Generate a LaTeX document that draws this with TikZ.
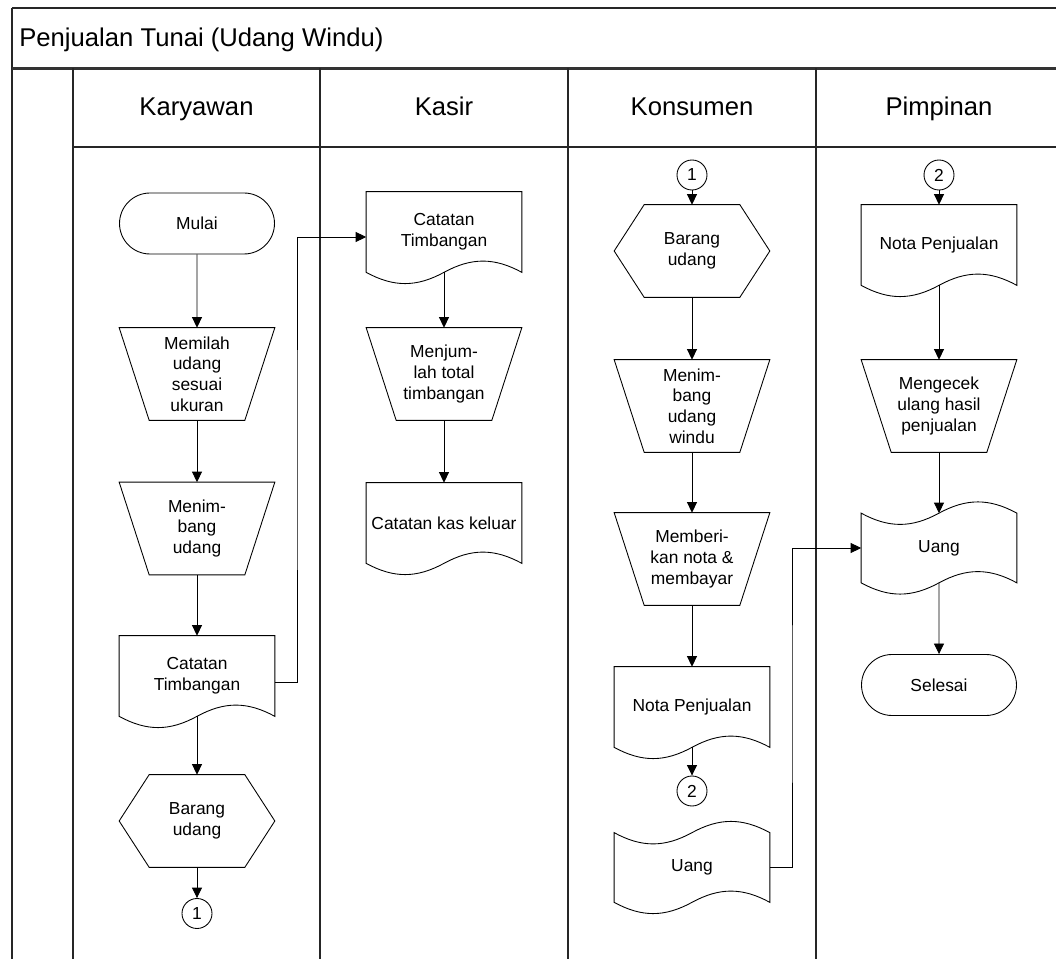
\documentclass[tikz,border=0pt]{standalone}
\usepackage{fontspec}
\setmainfont{Liberation Sans}
\usetikzlibrary{shapes.misc,arrows.meta,positioning,calc}

\tikzset{
  garis/.style={draw=black,line width=0.5pt},
  bingkai/.style={draw=black!85,line width=0.8pt},
  teks/.style={font=\fontsize{9.9}{11.8}\selectfont,align=center,inner sep=0pt},
  terminal/.style={teks,rounded rectangle,draw=black,line width=0.5pt,
                   minimum width=3.1cm,minimum height=1.22cm},
  proses/.style={teks,rectangle,minimum width=3.1cm,minimum height=1.84cm},
  dokumen/.style={teks,rectangle,minimum width=3.1cm,minimum height=1.6cm},
  pita/.style={teks,rectangle,minimum width=3.1cm,minimum height=1.38cm},
  konektor/.style={teks,circle,draw=black,line width=0.5pt,minimum size=0.6cm},
  panah/.style={garis,-{Triangle[length=0.21cm,width=0.2cm]}},
  judul/.style={font=\fontsize{14.6}{17}\selectfont,inner sep=0pt},
}

\begin{document}
\begin{tikzpicture}[x=0.02cm,y=-0.02cm]
  \useasboundingbox (0,0) rectangle (1056,959);
  \clip (0,0) rectangle (1056,959);
  % Bingkai dan lajur
  \draw[bingkai] (12,8) -- (1070,8);
  \draw[bingkai] (12,8) -- (12,980);
  \draw[draw=black!80,line width=1.3pt] (12,68.5) -- (1070,68.5);
  \foreach \x in {73,320,568,816}
    \draw[bingkai] (\x,68.5) -- (\x,980);
  \draw[bingkai] (73,147) -- (1070,147);
  \node[judul,anchor=base west] (judul) at (19,47) {Penjualan Tunai (Udang Windu)};
  \node[judul,anchor=base] (hKaryawan) at (196.5,116) {Karyawan};
  \node[judul,anchor=base] (hKasir) at (444,116) {Kasir};
  \node[judul,anchor=base] (hKonsumen) at (692,116) {Konsumen};
  \node[judul,anchor=base] (hPimpinan) at (939,116) {Pimpinan};

  % Karyawan
  \node[terminal] (mulai) at (197,223.5) {Mulai};
  \node[proses] (memilah) at (197,374) {Memilah\\udang\\sesuai\\ukuran};
  \node[proses] (menimbang) at (197,528.5) {Menim-\\bang\\udang};
  \node[dokumen] (catatanK) at (197,676) {Catatan\\Timbangan};
  \node[proses] (barangK) at (197,821) {Barang\\udang};
  \node[konektor] (satuA) at (197,913.5) {1};

  % Kasir
  \node[dokumen] (catatanS) at (444,232) {Catatan\\Timbangan};
  \node[proses] (menjumlah) at (444,374) {Menjum-\\lah total\\timbangan};
  \node[dokumen] (kas) at (444,523) {Catatan kas keluar};

  % Konsumen
  \node[konektor] (satuB) at (692,175) {1};
  \node[proses] (barangS) at (692,251) {Barang\\udang};
  \node[proses] (menimbangS) at (692,406) {Menim-\\bang\\udang\\windu};
  \node[proses] (memberi) at (692,559) {Memberi-\\kan nota \&\\membayar};
  \node[dokumen] (notaS) at (692,707) {Nota Penjualan};
  \node[konektor] (duaA) at (692,791) {2};
  \node[pita] (uangS) at (692,867.5) {Uang};

  % Pimpinan
  \node[konektor] (duaB) at (939,175) {2};
  \node[dokumen] (notaP) at (939,245) {Nota Penjualan};
  \node[proses] (mengecek) at (939,406) {Mengecek\\ulang hasil\\penjualan};
  \node[pita] (uangP) at (939,548) {Uang};
  \node[terminal] (selesai) at (939,685) {Selesai};

  % Bentuk simbol
  \foreach \n in {memilah,menimbang,menjumlah,menimbangS,memberi,mengecek}
    \draw[garis] (\n.north west) -- (\n.north east) -- ([xshift=-0.6cm]\n.south east)
      -- ([xshift=0.6cm]\n.south west) -- cycle;
  \foreach \n in {barangK,barangS}
    \draw[garis] ([xshift=0.6cm]\n.north west) -- ([xshift=-0.6cm]\n.north east) -- (\n.east)
      -- ([xshift=-0.6cm]\n.south east) -- ([xshift=0.6cm]\n.south west) -- (\n.west) -- cycle;
  \foreach \n in {catatanK,catatanS,kas,notaS,notaP}
    \draw[garis] (\n.south west) -- (\n.north west) -- (\n.north east) -- (\n.south east)
      .. controls +(-0.55cm,0.3cm) and +(0.55cm,0.3cm) .. (\n.south)
      .. controls +(-0.55cm,-0.3cm) and +(0.55cm,-0.3cm) .. (\n.south west) -- cycle;
  \foreach \n in {uangS,uangP}
    \draw[garis] (\n.north west)
      .. controls +(0.55cm,-0.3cm) and +(-0.55cm,-0.3cm) .. (\n.north)
      .. controls +(0.55cm,0.3cm) and +(-0.55cm,0.3cm) .. (\n.north east) -- (\n.south east)
      .. controls +(-0.55cm,0.3cm) and +(0.55cm,0.3cm) .. (\n.south)
      .. controls +(-0.55cm,-0.3cm) and +(0.55cm,-0.3cm) .. (\n.south west) -- cycle;

  % Alur
  \draw[panah] (mulai) -- (memilah);
  \draw[panah] (memilah) -- (menimbang);
  \draw[panah] (menimbang) -- (catatanK);
  \draw[panah] (catatanK) -- (barangK);
  \draw[panah] (barangK) -- (satuA);
  \coordinate (jalurA) at (297,460);
  \draw[panah] ([yshift=-0.12cm]catatanK.east) -| (jalurA) |- ([yshift=-0.1cm]catatanS.west);
  \draw[panah] (catatanS) -- (menjumlah);
  \draw[panah] (menjumlah) -- (kas);
  \draw[panah] (satuB) -- (barangS);
  \draw[panah] (barangS) -- (menimbangS);
  \draw[panah] (menimbangS) -- (memberi);
  \draw[panah] (memberi) -- (notaS);
  \draw[panah] (notaS) -- (duaA);
  \coordinate (jalurB) at (792,700);
  \draw[panah] (uangS.east) -| (jalurB) |- (uangP.west);
  \draw[panah] (duaB) -- (notaP);
  \draw[panah] (notaP) -- (mengecek);
  \draw[panah] (mengecek) -- (uangP);
  \draw[panah] (uangP) -- (selesai);
\end{tikzpicture}
\end{document}
